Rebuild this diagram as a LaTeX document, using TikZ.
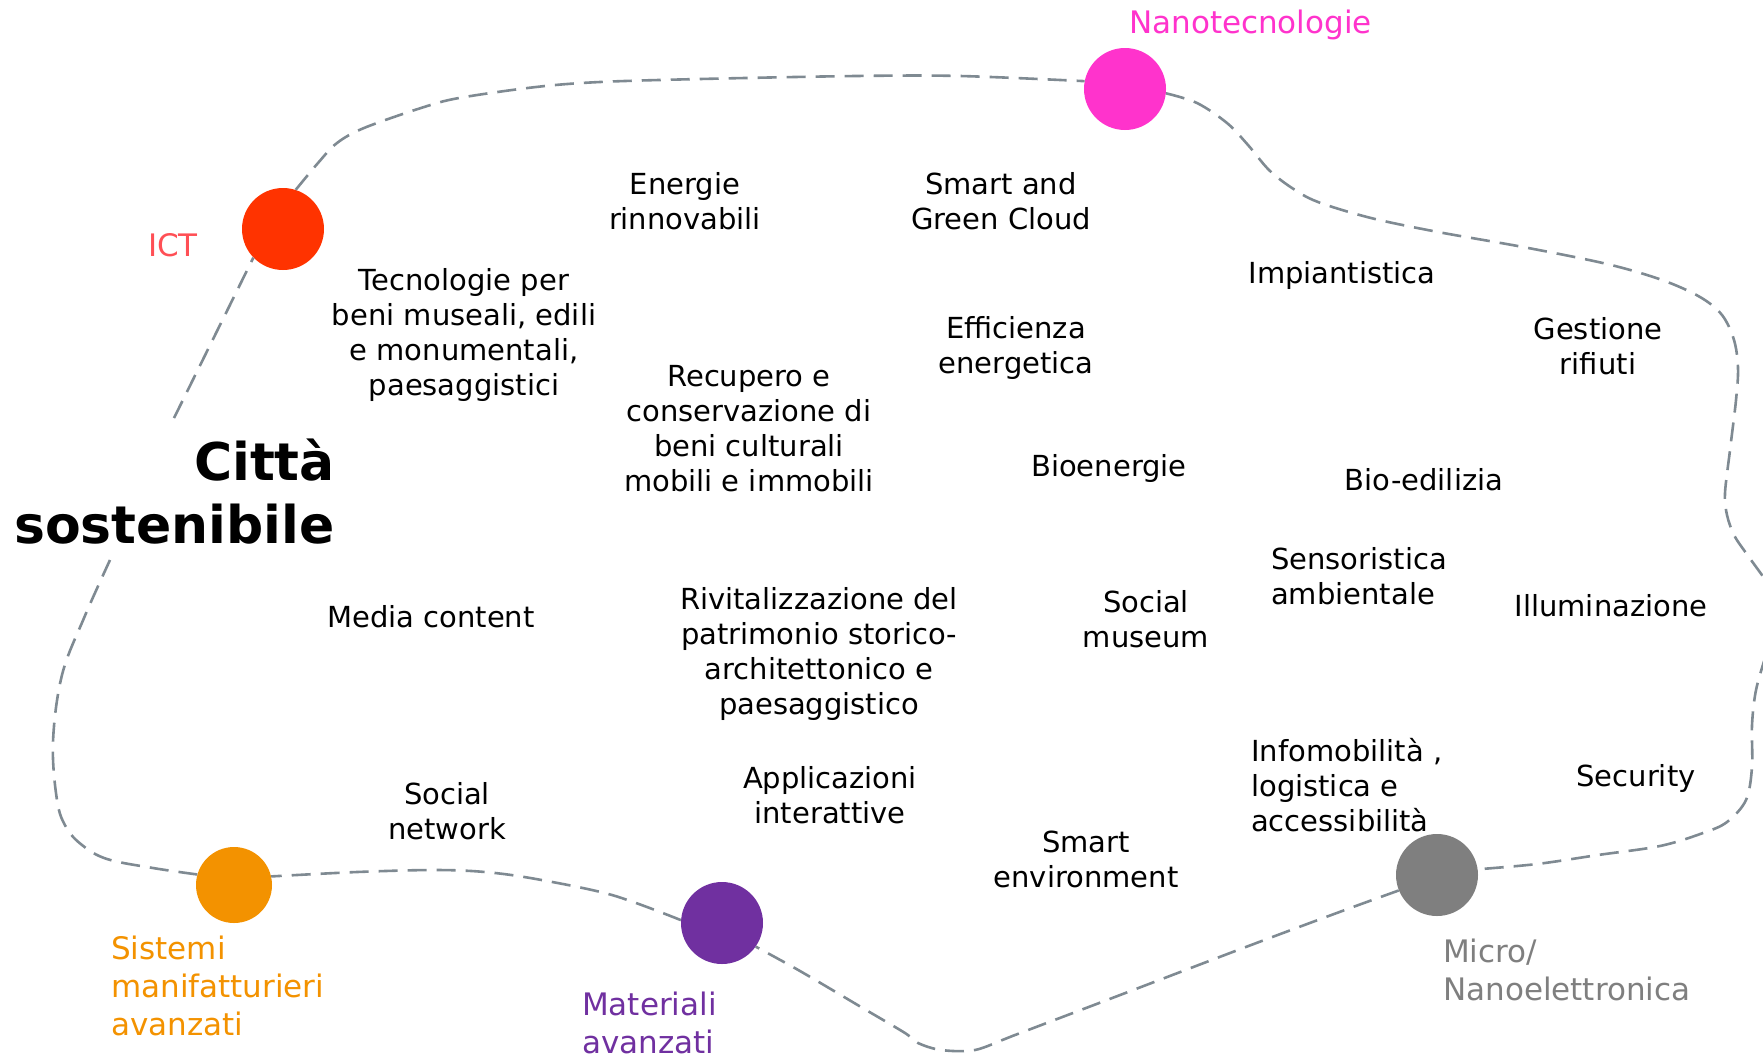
\documentclass[tikz,border=0pt]{standalone}
\usepackage{fontspec}
\setmainfont{DejaVu Sans}
\definecolor{lineC}{HTML}{7F8A92}
\definecolor{ictC}{HTML}{FF3300}
\definecolor{ictT}{HTML}{FF4F55}
\definecolor{nanoC}{HTML}{FF33CC}
\definecolor{orgC}{HTML}{F39200}
\definecolor{purC}{HTML}{7030A0}
\definecolor{gryC}{HTML}{7F7F7F}
\begin{document}
\begin{tikzpicture}[x=1pt,y=-1pt,
  lbl/.style={font=\fontsize{29}{35}\selectfont, align=center, inner sep=0pt},
  lbll/.style={font=\fontsize{29}{35}\selectfont, align=left, inner sep=0pt, anchor=west},
  tech/.style={font=\fontsize{31}{38}\selectfont, align=left, inner sep=0pt},
  dot/.style={circle, minimum size=82pt, inner sep=0pt},
  ring/.style={draw=lineC, line width=2.6pt, dash pattern=on 19pt off 10pt, line join=round}
]
\useasboundingbox (0,0) rectangle (1763,1058);

% circles
\node[dot, fill=ictC] (ict) at (283,229) {};
\node[dot, fill=nanoC] (nano) at (1125,89) {};
\node[dot, fill=gryC] (gray) at (1437,875) {};
\node[dot, fill=purC] (pur) at (722,923) {};
\node[dot, fill=orgC, minimum size=76pt] (org) at (234,885) {};

% free ends
\coordinate (s0) at (174,418);
\coordinate (out1) at (1770,586);
\coordinate (in1) at (1766,655);
\coordinate (e0) at (110,560);

% dashed ring
\draw[ring] (s0) -- (ict.224);
\draw[ring] plot[smooth, tension=0.55] coordinates {(ict.72) (318,163) (337,143) (364,128) (421,108) (459,98) (536,87) (600,82) (700,79) (856,76) (960,76) (nano.169)};
\draw[ring] plot[smooth, tension=0.55] coordinates {(nano.-6) (1197,103) (1227,123) (1248,145) (1269,170) (1292,188) (1318,202) (1371,218) (1438,232) (1523,247) (1607,264) (1662,280) (1700,297) (1722,315) (1734,340) (1738,368) (1736,400) (1730,450) (1725,493) (1727,515) (1734,535) (1746,553) (out1)};
\draw[ring] plot[smooth, tension=0.55] coordinates {(in1) (1756,690) (1752,725) (1752,767) (1746,800) (1727,822) (1703,833) (1660,846) (1598,855) (1537,864) (gray.8)};
\draw[ring] plot[smooth, tension=0.5] coordinates {(gray.202) (1353,907) (1291,930) (1230,953) (1107,1000) (1015,1035) (975,1050) (941,1050) (918,1043) (905,1033) (861,1007) (800,971) (pur.-35)};
\draw[ring] plot[smooth, tension=0.55] coordinates {(pur.176) (612,895) (536,879) (485,872) (434,870) (357,872) (org.13)};
\draw[ring] plot[smooth, tension=0.6] coordinates {(org.164) (153,868) (107,859) (82,845) (66,827) (57,800) (53,742) (62,675) (84,618) (e0)};

% technology labels
\node[tech, text=ictT] (tict) at (173,245) {ICT};
\node[tech, text=nanoC, anchor=west] (tnano) at (1129,25) {Nanotecnologie};
\node[tech, text=orgC, anchor=west] (torg) at (111,986) {Sistemi\\manifatturieri\\avanzati};
\node[tech, text=purC, anchor=west] (tpur) at (582,1023) {Materiali\\avanzati};
\node[tech, text=gryC, anchor=west] (tgry) at (1443,970) {Micro/\\Nanoelettronica};

% title
\node[font=\fontsize{52}{63}\selectfont\bfseries, align=right, inner sep=0pt, anchor=east] (title) at (335,492) {Città\\sostenibile};

% topic labels
\node[lbl] (t1) at (685,201) {Energie\\rinnovabili};
\node[lbl] (t2) at (1001,201) {Smart and\\Green Cloud};
\node[lbl] (t3) at (1342,275) {Impiantistica};
\node[lbl] (t4) at (1598,346) {Gestione\\rifiuti};
\node[lbl] (t5) at (464,335) {Tecnologie per\\beni museali, edili\\e monumentali,\\paesaggistici};
\node[lbl] (t6) at (1016,348) {Efficienza\\energetica};
\node[lbl] (t7) at (749,429) {Recupero e\\conservazione di\\beni culturali\\mobili e immobili};
\node[lbl] (t8) at (1109,468) {Bioenergie};
\node[lbl] (t9) at (1424,480) {Bio-edilizia};
\node[lbl] (t10) at (431,617) {Media content};
\node[lbl] (t11) at (819,654) {Rivitalizzazione del\\patrimonio storico-\\architettonico e\\paesaggistico};
\node[lbl] (t12) at (1146,619) {Social\\museum};
\node[lbll] (t13) at (1271,576) {Sensoristica\\ambientale};
\node[lbl] (t14) at (1611,606) {Illuminazione};
\node[lbl] (t15) at (447,811) {Social\\network};
\node[lbl] (t16) at (830,795) {Applicazioni\\interattive};
\node[lbll] (t17) at (1251,785) {Infomobilità ,\\logistica e\\accessibilità};
\node[lbl] (t18) at (1636,778) {Security};
\node[lbl] (t19) at (1086,859) {Smart\\environment};
\end{tikzpicture}
\end{document}
